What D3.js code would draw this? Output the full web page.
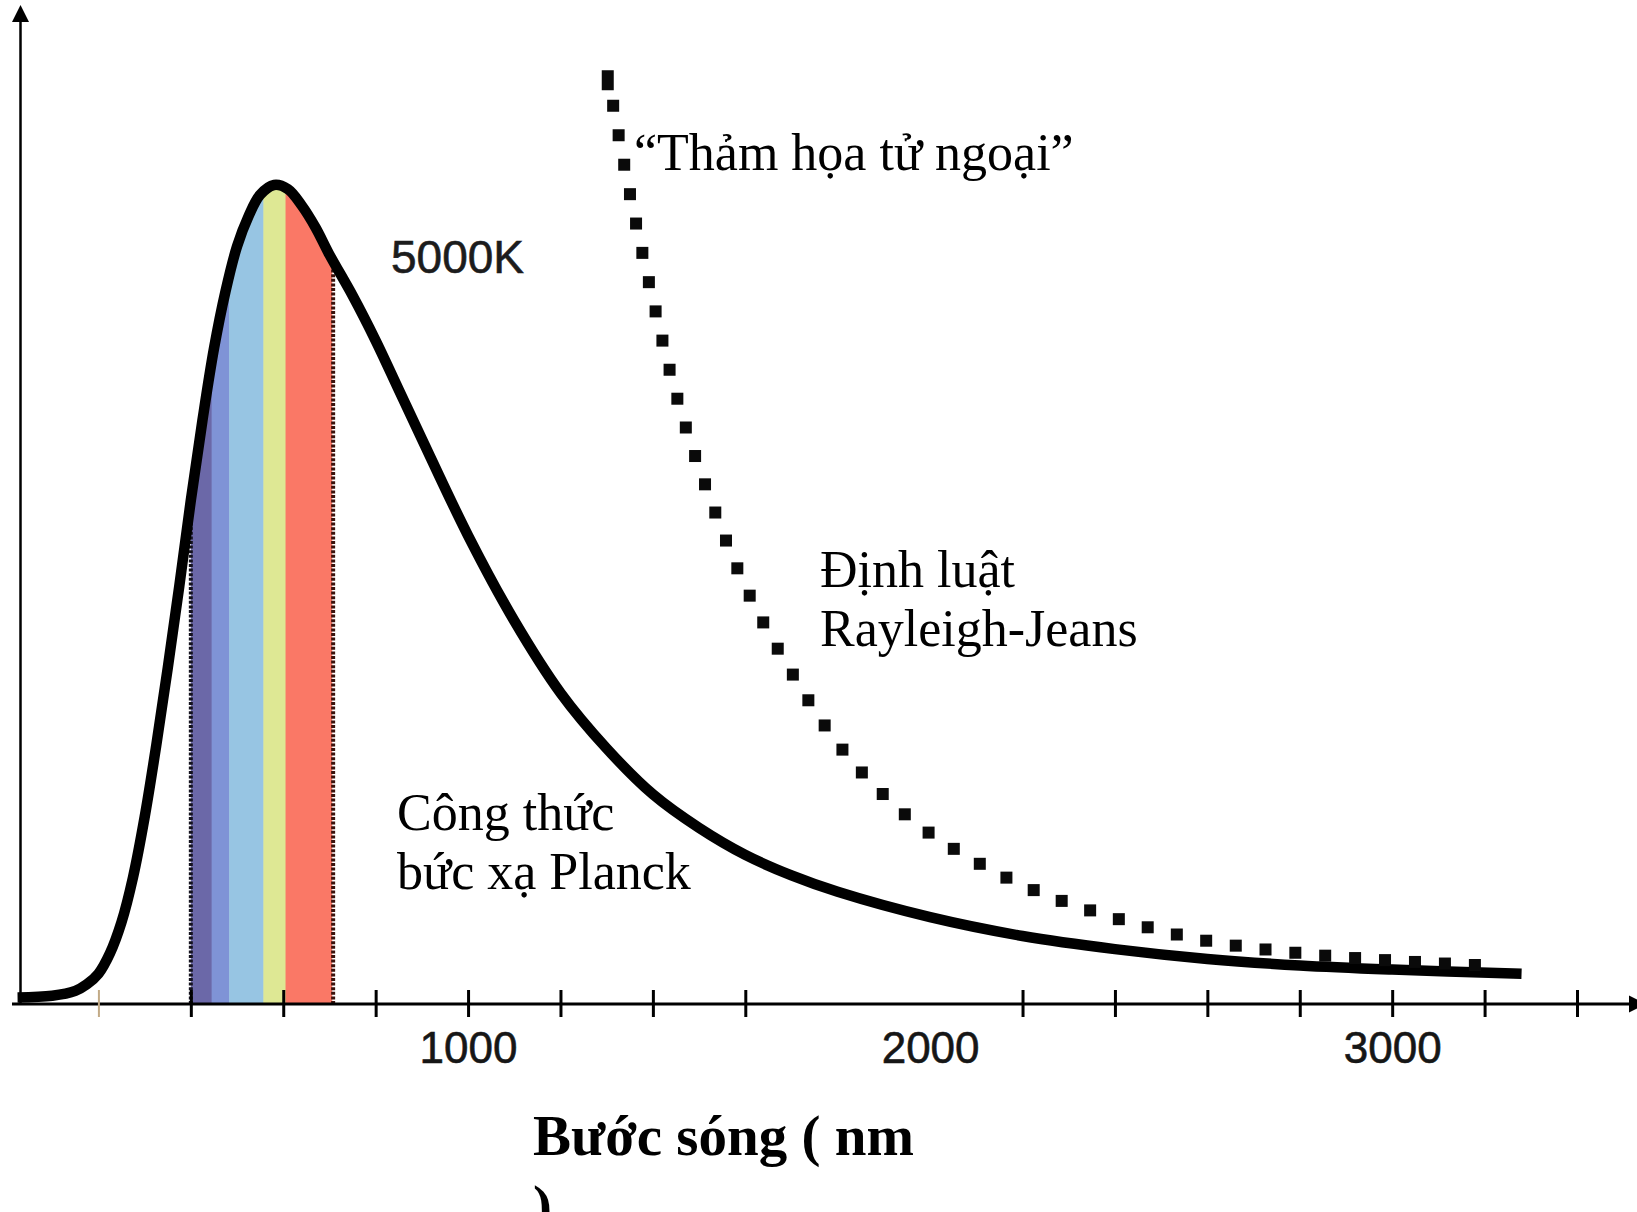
<!DOCTYPE html>
<html>
<head>
<meta charset="utf-8">
<script src="https://cdn.jsdelivr.net/npm/d3@7"></script>
<style>
  html, body { margin: 0; padding: 0; background: #ffffff; }
  svg { display: block; }
</style>
</head>
<body>
<svg id="chart" width="1637" height="1212"></svg>
<script>
// Planck radiation curve, T = 5000 K (relative spectral radiance, peak = 1)
const planckWavelengths = [25, 100, 150, 175, 200, 225, 250, 275, 300, 325, 350, 375, 400, 425, 450, 475, 500, 525, 550, 580, 610, 640, 670, 700, 750, 800, 850, 900, 1000, 1100, 1200, 1300, 1400, 1500, 1600, 1700, 1800, 2000, 2200, 2400, 2600, 2800, 3000, 3280];
const planckValues      = [0.008, 0.010, 0.016, 0.024, 0.037, 0.062, 0.100, 0.155, 0.228, 0.315, 0.410, 0.510, 0.615, 0.712, 0.800, 0.870, 0.925, 0.962, 0.988, 1.000, 0.995, 0.975, 0.948, 0.915, 0.865, 0.810, 0.750, 0.690, 0.572, 0.468, 0.380, 0.312, 0.256, 0.215, 0.182, 0.157, 0.137, 0.106, 0.083, 0.067, 0.055, 0.047, 0.042, 0.037];

// Rayleigh-Jeans law (same units)
const rjWavelengths = [1300, 1350, 1400, 1450, 1500, 1600, 1700, 1800, 1900, 2000, 2200, 2400, 2600, 2800, 3000, 3240];
const rjValues      = [1.14, 0.99, 0.86, 0.745, 0.655, 0.51, 0.405, 0.318, 0.255, 0.208, 0.145, 0.105, 0.077, 0.062, 0.053, 0.046];

// Visible spectrum: band edges (nm) and the colour of each band
const bandEdges  = [400, 445, 483, 557, 605, 705];
const bandColors = ["#6b68a8", "#7f93d6", "#97c5e3", "#dee894", "#fa7866"];
const visibleLimits = [400, 708];

// Axis ticks and labels (nm)
const tickValues = [200, 400, 600, 800, 1000, 1200, 1400, 1600, 2200, 2400, 2600, 2800, 3000, 3200, 3400];
const tickLabels = [1000, 2000, 3000];

// Annotation texts
const temperatureLabel = "5000K";
const uvLabel = "\u201cTh\u1ea3m h\u1ecda t\u1eed ngo\u1ea1i\u201d";
const rjLabel = ["\u0110\u1ecbnh lu\u1eadt", "Rayleigh-Jeans"];
const planckLabel = ["C\u00f4ng th\u1ee9c", "b\u1ee9c x\u1ea1 Planck"];
const xTitle = ["B\u01b0\u1edbc s\u00f3ng ( nm", ")"];

const svg = d3.select("#chart");

const axisY = 1004;
const x = d3.scaleLinear().domain([0, 3400]).range([6, 1577]);
const y = d3.scaleLinear().domain([0, 1]).range([axisY, 185]);

const planckData = planckWavelengths.map((w, i) => ({ w, v: planckValues[i] }));
const rjData = rjWavelengths.map((w, i) => ({ w, v: rjValues[i] }));

const curve = d3.curveCatmullRom.alpha(0.5);
const line = d3.line().x(d => x(d.w)).y(d => y(d.v)).curve(curve);
const area = d3.area().x(d => x(d.w)).y0(axisY).y1(d => y(d.v)).curve(curve);

// Clip region: everything under the Planck curve
const defs = svg.append("defs");
defs.append("clipPath").attr("id", "under-planck")
  .append("path").attr("d", area(planckData));

// Visible spectrum bands
const bands = bandColors.map((c, i) => ({ from: bandEdges[i], to: bandEdges[i + 1], color: c }));
const spectrum = svg.append("g").attr("clip-path", "url(#under-planck)");
spectrum.selectAll("rect").data(bands).join("rect")
  .attr("x", d => x(d.from))
  .attr("width", d => x(d.to) - x(d.from) + 0.5)
  .attr("y", 100)
  .attr("height", axisY - 100)
  .attr("fill", d => d.color);

// Dotted limits of the visible range
spectrum.selectAll("line").data(visibleLimits).join("line")
  .attr("x1", d => x(d)).attr("x2", d => x(d))
  .attr("y1", axisY).attr("y2", 100)
  .attr("stroke", (d, i) => i === 0 ? "#14121e" : "#3a120c")
  .attr("stroke-width", 4)
  .attr("stroke-dasharray", "3 1.6");

// Axes
const axes = svg.append("g");
// x axis line + arrow
axes.append("line")
  .attr("x1", 12).attr("x2", 1632).attr("y1", axisY).attr("y2", axisY)
  .attr("stroke", "#000").attr("stroke-width", 3);
axes.append("path")
  .attr("d", `M1629,${axisY - 8.5} L1646,${axisY} L1629,${axisY + 8.5} Z`)
  .attr("fill", "#000");
// y axis line + arrow
axes.append("line")
  .attr("x1", 20.5).attr("x2", 20.5).attr("y1", axisY + 1).attr("y2", 20)
  .attr("stroke", "#000").attr("stroke-width", 2.5);
axes.append("path")
  .attr("d", "M12,22 L20.5,5 L29,22 Z")
  .attr("fill", "#000");

// Ticks crossing the axis
const tickAxis = d3.axisBottom(x).tickValues(tickValues).tickSize(0).tickFormat("");
const tg = svg.append("g").attr("transform", `translate(0,${axisY})`).call(tickAxis);
tg.select(".domain").remove();
tg.selectAll(".tick line")
  .attr("y1", -14).attr("y2", 13)
  .attr("stroke", d => d === 200 ? "#c2aa86" : "#000")
  .attr("stroke-width", d => d === 200 ? 2 : 3);

// Tick labels
const labelAxis = d3.axisBottom(x).tickValues(tickLabels).tickSize(0).tickFormat(d3.format("d"));
const lg = svg.append("g").attr("transform", `translate(0,${axisY})`).call(labelAxis);
lg.select(".domain").remove();
lg.selectAll(".tick text")
  .attr("y", 59).attr("dy", 0)
  .attr("font-family", "'Liberation Sans', Arial, sans-serif")
  .attr("font-size", 44)
  .attr("fill", "#161616")
  .attr("stroke", "#161616")
  .attr("stroke-width", 0.6);

// Planck curve
svg.append("path")
  .attr("d", line(planckData))
  .attr("fill", "none")
  .attr("stroke", "#000")
  .attr("stroke-width", 10.5)
  .attr("stroke-linejoin", "round")
  .attr("stroke-linecap", "butt");

// Rayleigh-Jeans curve drawn as square dots along its path
const rjPath = svg.append("path")
  .attr("d", line(rjData))
  .attr("fill", "none")
  .attr("stroke", "none");
const node = rjPath.node();
const total = node.getTotalLength();
const dots = d3.range(6, total - 2, 30).map(s => node.getPointAtLength(s));
svg.append("g").selectAll("rect").data(dots).join("rect")
  .attr("x", p => p.x - 6)
  .attr("y", p => p.y - 6)
  .attr("width", 12)
  .attr("height", (p, i) => i === 0 ? 20 : 12)
  .attr("fill", "#0a0a0a");

// Annotations
const serif = "'Liberation Serif', 'Times New Roman', serif";
const ann = svg.append("g").attr("fill", "#000");

ann.append("text")
  .attr("x", 391).attr("y", 273)
  .attr("font-family", "'Liberation Sans', Arial, sans-serif")
  .attr("font-size", 46)
  .attr("fill", "#1c1c1c")
  .attr("stroke", "#1c1c1c")
  .attr("stroke-width", 0.6)
  .text(temperatureLabel);

ann.append("text")
  .attr("x", 634).attr("y", 170)
  .attr("font-family", serif).attr("font-size", 52)
  .text(uvLabel);

ann.selectAll("text.rj").data(rjLabel).join("text")
  .attr("class", "rj")
  .attr("x", 820).attr("y", (d, i) => 587 + i * 59)
  .attr("font-family", serif).attr("font-size", 52)
  .text(d => d);

ann.selectAll("text.pl").data(planckLabel).join("text")
  .attr("class", "pl")
  .attr("x", 397).attr("y", (d, i) => 830 + i * 59)
  .attr("font-family", serif).attr("font-size", 52)
  .text(d => d);

ann.selectAll("text.xt").data(xTitle).join("text")
  .attr("class", "xt")
  .attr("x", 533).attr("y", (d, i) => 1155 + i * 70)
  .attr("font-family", serif).attr("font-size", 57).attr("font-weight", "bold")
  .text(d => d);
</script>
</body>
</html>
